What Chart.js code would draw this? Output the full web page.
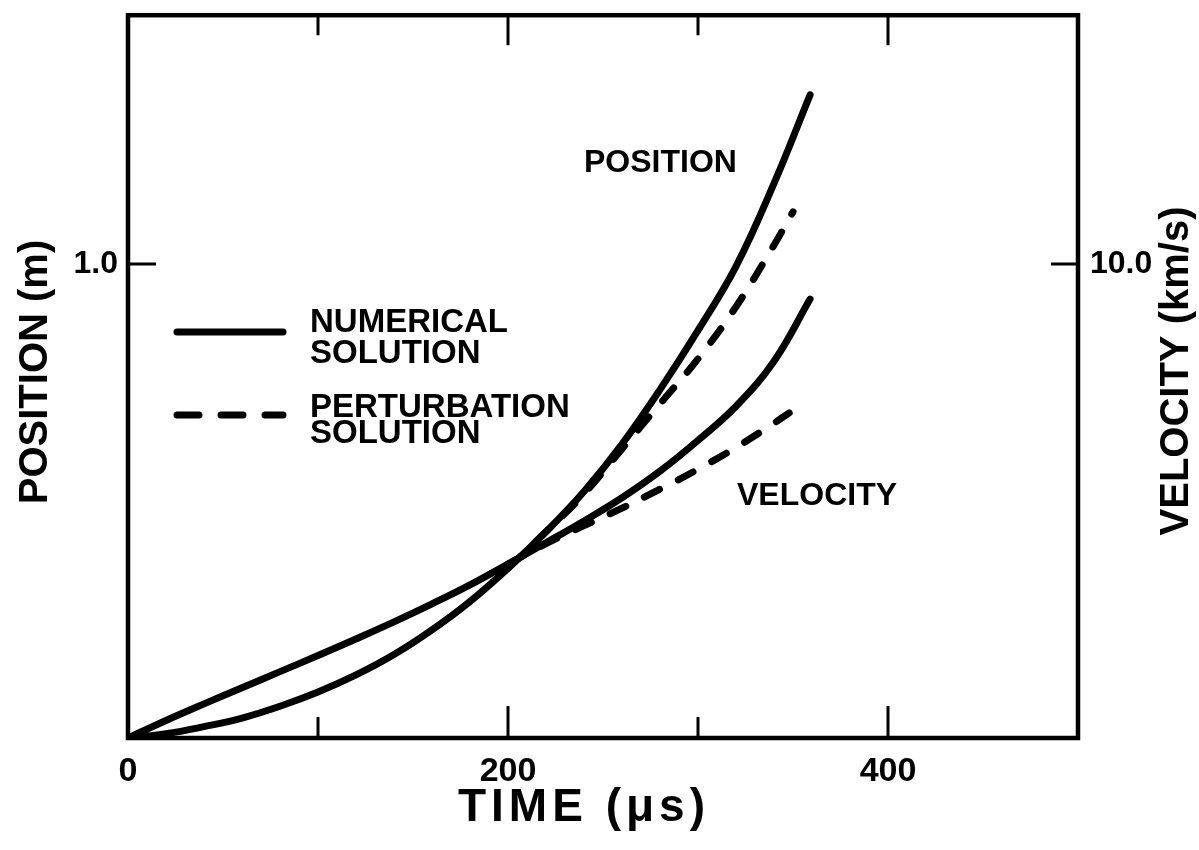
<!DOCTYPE html>
<html>
<head>
<meta charset="utf-8">
<script src="https://cdn.jsdelivr.net/npm/chart.js@4"></script>
<style>
  body { margin: 0; background: #fff; }
  #wrap { width: 1199px; height: 850px; position: relative; }
</style>
</head>
<body>
<div id="wrap"><canvas id="myChart"></canvas></div>
<script>
// time in microseconds, position in m, velocity in km/s
var timeNum = [0, 20, 40, 60, 80, 100, 120, 140, 160, 180, 200, 220, 240, 260, 280, 300, 320, 340, 359];
var posNum  = [0, 0.009, 0.024, 0.042, 0.067, 0.097, 0.133, 0.176, 0.228, 0.288, 0.358, 0.435, 0.52, 0.62, 0.735, 0.86, 0.995, 1.17, 1.357];
var velNum  = [0, 0.37, 0.72, 1.06, 1.40, 1.74, 2.09, 2.45, 2.83, 3.23, 3.67, 4.12, 4.58, 5.07, 5.63, 6.28, 7.0, 7.95, 9.26];

var timePosPert = [200, 220, 240, 260, 280, 300, 320, 340, 350];
var posPert     = [0.358, 0.435, 0.515, 0.61, 0.705, 0.80, 0.91, 1.04, 1.11];

var timeVelPert = [200, 220, 240, 260, 280, 300, 320, 340, 348];
var velPert     = [3.67, 4.1, 4.48, 4.85, 5.25, 5.67, 6.13, 6.64, 6.86];

var timeTicks = [0, 100, 200, 300, 400, 500];
var timeLabels = [0, 200, 400];
var posTicks = [1.0];
var velTicks = [10.0];

function pts(xs, ys) {
    return xs.map(function(x, i) { return {x: x, y: ys[i]}; });
}

var INK = '#000';
var FONT = '"Liberation Sans", Arial, sans-serif';

function lineSet(label, data, axis, dashed) {
    return {
        label: label,
        data: data,
        yAxisID: axis,
        borderColor: INK,
        borderWidth: 7,
        borderDash: dashed ? [17, 21] : [],
        borderCapStyle: 'round',
        pointRadius: 0,
        fill: false,
        tension: 0.4
    };
}

// frame, inward ticks, titles, legend and curve labels
var decor = {
    id: 'decor',
    afterDraw: function(chart) {
        var c = chart.ctx, a = chart.chartArea;
        var sx = chart.scales.x, sy = chart.scales.y, sv = chart.scales.y1;
        c.save();
        c.strokeStyle = INK;
        c.fillStyle = INK;
        c.lineWidth = 4.5;
        c.strokeRect(a.left, a.top, a.right - a.left, a.bottom - a.top);

        c.lineWidth = 3;
        c.beginPath();
        timeTicks.forEach(function(t) {
            if (t === 0 || t === 500) return;
            var px = sx.getPixelForValue(t);
            var big = (t % 200 === 0);
            c.moveTo(px, a.bottom); c.lineTo(px, a.bottom - (big ? 32 : 21));
            c.moveTo(px, a.top); c.lineTo(px, a.top + (big ? 30 : 20));
        });
        posTicks.forEach(function(v) {
            var py = sy.getPixelForValue(v);
            c.moveTo(a.left, py); c.lineTo(a.left + 28, py);
        });
        velTicks.forEach(function(v) {
            var py = sv.getPixelForValue(v);
            c.moveTo(a.right, py); c.lineTo(a.right - 27, py);
        });
        c.stroke();

        // axis titles
        c.textAlign = 'center';
        c.textBaseline = 'alphabetic';
        c.font = 'bold 46px ' + FONT;
        c.letterSpacing = '5px';
        c.fillText('TIME (\u03bcs)', 584, 821);
        c.letterSpacing = '0px';
        c.font = 'bold 40px ' + FONT;
        c.save();
        c.translate(47, 372);
        c.rotate(-Math.PI / 2);
        c.fillText('POSITION (m)', 0, 0);
        c.restore();
        c.save();
        c.translate(1188, 371);
        c.rotate(-Math.PI / 2);
        c.fillText('VELOCITY (km/s)', 0, 0);
        c.restore();

        // curve labels
        c.textAlign = 'left';
        c.font = 'bold 32px ' + FONT;
        c.fillText('POSITION', 584, 172);
        c.fillText('VELOCITY', 737, 505);

        // legend
        c.font = 'bold 33px ' + FONT;
        c.fillText('NUMERICAL', 310, 332);
        c.fillText('SOLUTION', 310, 363);
        c.fillText('PERTURBATION', 310, 417);
        c.fillText('SOLUTION', 310, 443);
        c.lineWidth = 7;
        c.lineCap = 'round';
        c.beginPath();
        c.moveTo(177, 332); c.lineTo(283, 332);
        c.stroke();
        c.setLineDash([22, 22]);
        c.beginPath();
        c.moveTo(177, 415); c.lineTo(283, 415);
        c.stroke();
        c.restore();
    }
};

var ctx = document.getElementById('myChart').getContext('2d');
var myChart = new Chart(ctx, {
    type: 'line',
    data: {
        datasets: [
            lineSet('Position numerical', pts(timeNum, posNum), 'y', false),
            lineSet('Position perturbation', pts(timePosPert, posPert), 'y', true),
            lineSet('Velocity numerical', pts(timeNum, velNum), 'y1', false),
            lineSet('Velocity perturbation', pts(timeVelPert, velPert), 'y1', true)
        ]
    },
    options: {
        responsive: true,
        maintainAspectRatio: false,
        animation: false,
        layout: { padding: { top: 14, left: 0, right: 0, bottom: 0 } },
        plugins: { legend: { display: false }, tooltip: { enabled: false } },
        scales: {
            x: {
                type: 'linear',
                position: 'bottom',
                min: 0, max: 500,
                grid: { display: false, drawTicks: false },
                border: { display: false },
                afterBuildTicks: function(s) { s.ticks = timeLabels.map(function(v) { return {value: v}; }); },
                ticks: {
                    autoSkip: false,
                    padding: 13,
                    color: INK,
                    font: { family: FONT, size: 34, weight: 'bold' },
                    callback: function(v) { return String(v); }
                },
                afterFit: function(s) { s.height = 112; }
            },
            y: {
                type: 'linear',
                position: 'left',
                min: 0, max: 1.525,
                grid: { display: false, drawTicks: false },
                border: { display: false },
                afterBuildTicks: function(s) { s.ticks = posTicks.map(function(v) { return {value: v}; }); },
                ticks: {
                    padding: 10,
                    color: INK,
                    font: { family: FONT, size: 32, weight: 'bold', lineHeight: 0.2 },
                    callback: function(v) { return v.toFixed(1); }
                },
                afterFit: function(s) { s.width = 128; }
            },
            y1: {
                type: 'linear',
                position: 'right',
                min: 0, max: 15.25,
                grid: { display: false, drawTicks: false },
                border: { display: false },
                afterBuildTicks: function(s) { s.ticks = velTicks.map(function(v) { return {value: v}; }); },
                ticks: {
                    padding: 12,
                    color: INK,
                    font: { family: FONT, size: 32, weight: 'bold', lineHeight: 0.2 },
                    callback: function(v) { return v.toFixed(1); }
                },
                afterFit: function(s) { s.width = 121; }
            }
        }
    },
    plugins: [decor]
});
</script>
</body>
</html>
